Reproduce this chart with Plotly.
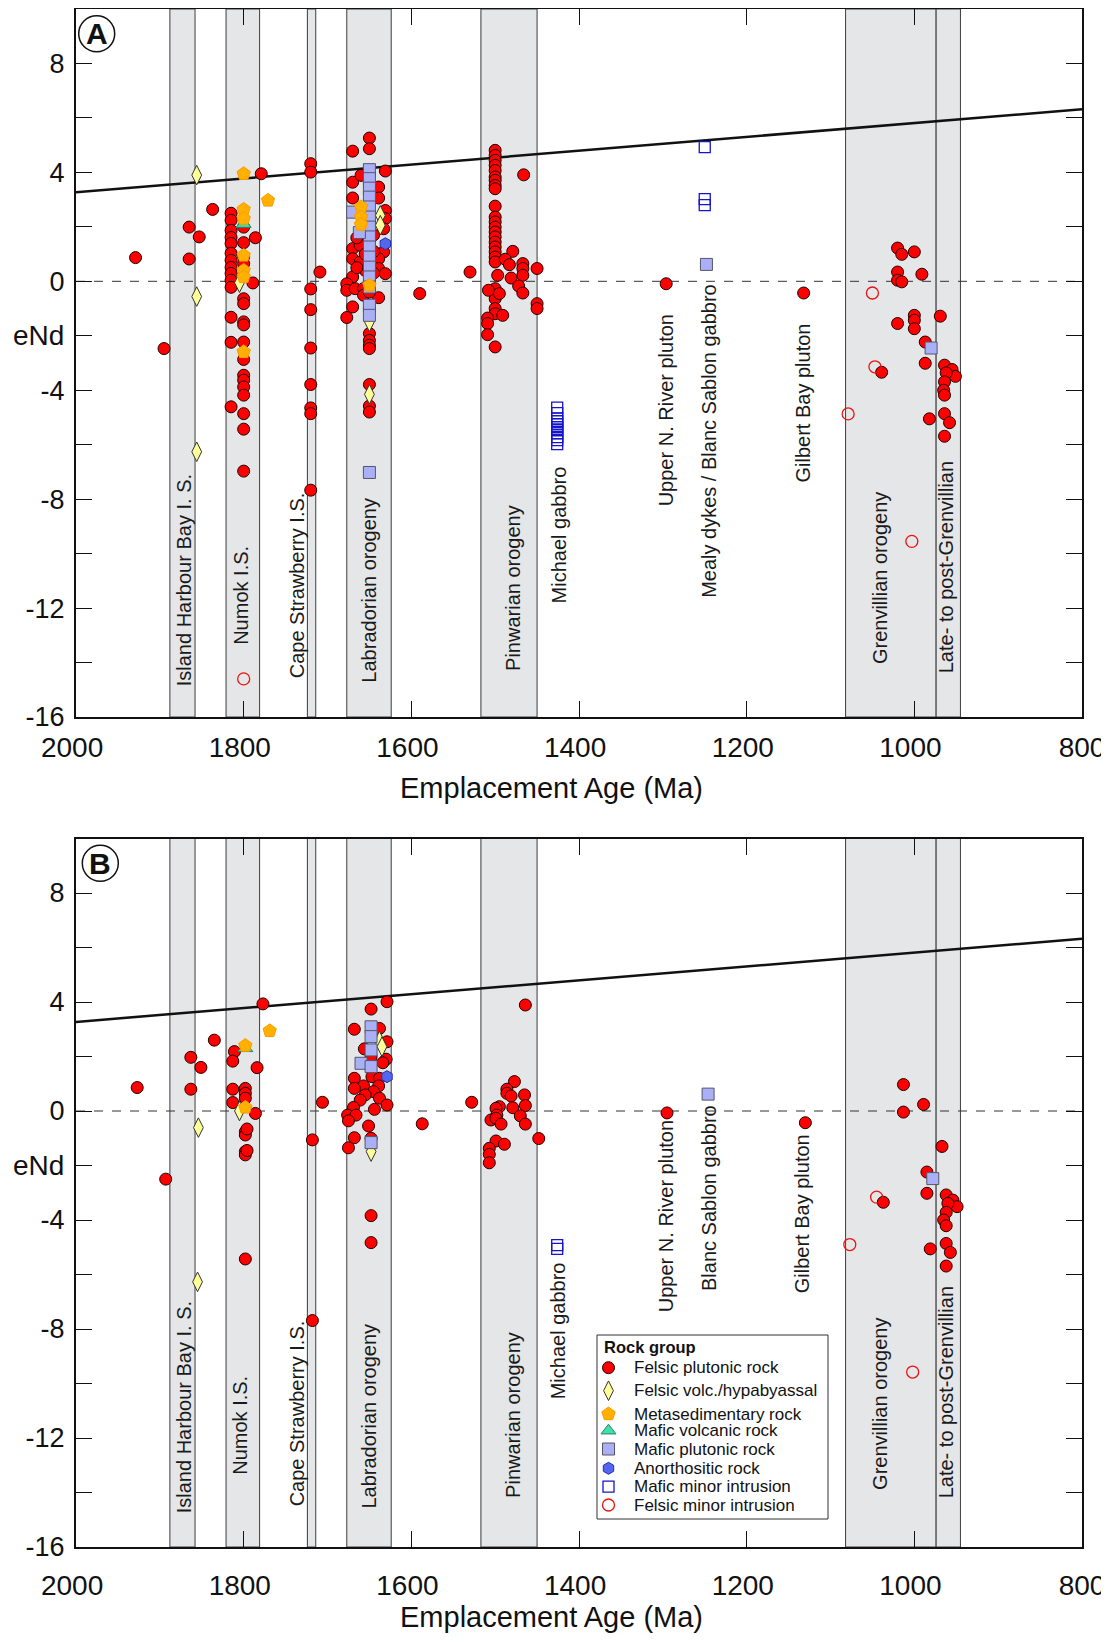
import plotly.graph_objects as go

# ---------------- data: panel A ----------------
a_fp_age = [1929, 1895, 1865, 1865, 1853, 1837,
            1815, 1815, 1815, 1815, 1815, 1815, 1815, 1815, 1815, 1815, 1815, 1815, 1815, 1815,
            1800, 1800, 1800, 1800, 1800, 1800, 1800, 1800, 1800, 1800, 1800, 1800, 1800, 1800, 1800, 1800, 1800,
            1789, 1786, 1779,
            1720, 1720, 1720, 1720, 1720, 1720, 1720, 1720, 1720, 1709,
            1650, 1650, 1670, 1631, 1670, 1660, 1639, 1670, 1639, 1631, 1631, 1633, 1670, 1661, 1633,
            1670, 1661, 1639, 1639, 1631, 1670, 1677, 1677, 1667, 1657, 1657, 1639, 1670, 1677,
            1650, 1650, 1650, 1650, 1650, 1650, 1650, 1650, 1650, 1650, 1650, 1650,
            1645, 1645, 1645, 1655, 1655, 1655, 1665, 1665, 1650, 1650, 1650,
            1590, 1530,
            1500, 1500, 1500, 1500, 1500, 1500, 1500, 1500, 1500, 1500, 1500, 1500, 1500, 1500, 1500,
            1500, 1500, 1500, 1500, 1500, 1500, 1500, 1500, 1500, 1500,
            1497, 1508, 1495, 1509, 1509, 1509, 1491,
            1466, 1479, 1488, 1483, 1467, 1467, 1450, 1467, 1481, 1472, 1467, 1450, 1450,
            1296, 1132,
            1020, 1015, 1000, 1020, 1020, 1015, 991, 1000, 1000, 1000, 1020, 969, 987, 987, 1039,
            964, 955, 951, 962, 964, 965, 964, 982, 964, 958, 964]
a_fp_end = [0.87, -2.47, 1.99, 0.82, 1.63, 2.64,
            2.5, 2.24, 1.87, 1.61, 1.39, 1.03, 0.77, 0.51, 0.29, 0.04, -0.22, -1.32, -2.24, -4.61,
            1.99, 1.42, 0.9, 0.65, -0.64, -0.82, -1.49, -1.6, -2.23, -2.87, -3.45, -3.63, -3.88, -4.18, -4.86, -5.43, -6.97,
            -0.06, 1.6, 3.95,
            4.32, 4.01, -0.28, -1.04, -2.45, -3.79, -4.65, -4.86, -7.67, 0.34,
            5.26, 4.87, 4.78, 4.05, 3.64, 3.89, 3.46, 3.06, 3.06, 2.6, 2.3, 1.93, 1.2, 1.32, 1.08,
            0.83, 0.71, 0.83, 0.47, 0.28, 0.16, -0.09, -0.33, -0.27, -0.27, -0.51, -0.6, -0.94, -1.33,
            -1.92, -2.17, -2.35, -2.47, 3.5, 2.9, 2.2, 1.5, 0.6, 0.0, -0.4, -1.0,
            1.7, 1.1, 0.3, 2.0, 1.0, 0.4, 1.6, 0.5, -3.79, -4.58, -4.8,
            -0.45, 0.34,
            4.81, 4.62, 4.44, 4.26, 4.07, 3.83, 3.71, 3.52, 3.4, 2.76, 2.36, 2.18, 1.99, 1.81, 1.63,
            1.44, 1.26, 1.08, 0.89, 0.71, -0.27, -0.64, -1.0, -1.19, -2.41,
            0.22, -0.33, -0.45, -1.35, -1.55, -1.96, -1.25,
            3.91, 1.1, 0.81, 0.61, 0.65, 0.47, 0.47, 0.22, 0.12, -0.17, -0.43, -0.82, -1.0,
            -0.09, -0.43,
            1.22, 0.99, 1.08, 0.34, 0.04, -0.02, 0.26, -1.25, -1.43, -1.74, -1.55, -1.28, -2.23, -3.01, -3.34,
            -3.08, -3.24, -3.49, -3.36, -3.69, -4.0, -4.18, -5.05, -4.86, -5.19, -5.69]
a_fv_age = [1856, 1856, 1856, 1805, 1637, 1637, 1650, 1650]
a_fv_end = [3.9, -0.56, -6.26, -0.05, 2.42, 2.06, -1.49, -4.15]
a_ms_age = [1800, 1800, 1800, 1800, 1800, 1800, 1800, 1771, 1660, 1660, 1660, 1650]
a_ms_end = [3.95, 2.64, 2.3, 0.95, 0.4, 0.16, -2.59, 2.97, 2.73, 2.36, 2.08, -0.15]
a_mv_age = [1800]
a_mv_end = [2.1]
a_mp_age = [1650] * 16 + [1670, 1662, 1248, 980]
a_mp_end = [4.1, 3.77, 3.42, 3.09, 2.73, 2.36, 1.99, 1.63, 1.26, 0.89, 0.52, 0.16, -0.21, -0.88, -1.25, -7.02,
            2.54, 1.79, 0.62, -2.45]
a_an_age = [1631]
a_an_end = [1.38]
a_mm_age = [1250, 1250, 1250] + [1426] * 11
a_mm_end = [4.93, 3.02, 2.8, -4.64, -4.84, -5.03, -5.14, -5.25, -5.36, -5.47, -5.58, -5.72, -5.83, -5.98]
a_fm_age = [1800, 1050, 1047, 1079, 1003]
a_fm_end = [-14.6, -0.43, -3.14, -4.87, -9.55]

# ---------------- data: panel B ----------------
b_fp_age = [1927, 1893, 1863, 1863, 1851, 1835, 1811, 1813, 1784, 1777, 1813, 1813, 1798, 1798, 1798,
            1786, 1798, 1798, 1796, 1798, 1798, 1796, 1798, 1718, 1718, 1706, 1587, 1528,
            1629, 1648, 1668, 1638, 1629, 1656, 1648, 1630, 1634, 1668, 1647, 1638, 1657, 1668, 1639,
            1645, 1655, 1661, 1638, 1629, 1669, 1644, 1676, 1666, 1675, 1651, 1668, 1675, 1648, 1648, 1648,
            1464, 1477, 1486, 1486, 1481, 1465, 1495, 1499, 1479, 1464, 1498, 1505, 1499, 1493, 1470,
            1464, 1448, 1499, 1489, 1507, 1507, 1507,
            1295, 1130,
            1013, 1013, 989, 967, 985, 985, 1037, 962, 954, 949, 960, 962, 965, 962, 981, 962, 957, 962]
b_fp_end = [0.86, -2.5, 1.97, 0.8, 1.6, 2.6, 2.18, 1.83, 1.59, 3.93, 0.8, 0.31, 0.83, 0.65, 0.47,
            -0.09, -0.76, -0.88, -0.66, -1.49, -1.61, -1.45, -5.43, -1.06, -7.69, 0.32, -0.47, 0.32,
            4.01, 3.74, 3.0, 3.03, 2.54, 2.28, 1.99, 1.9, 1.77, 1.2, 1.26, 1.2, 0.92, 0.83, 0.92,
            0.71, 0.59, 0.4, 0.47, 0.22, 0.13, 0.06, -0.15, -0.15, -0.36, -0.55, -0.98, -1.35, -1.0, -3.84, -4.83,
            3.89, 1.08, 0.8, 0.65, 0.55, 0.59, 0.16, 0.1, 0.12, 0.2, -0.15, -0.33, -0.27, -0.48, -0.18,
            -0.48, -1.01, -1.1, -1.22, -1.37, -1.59, -1.9,
            -0.07, -0.43,
            0.97, -0.04, 0.24, -1.3, -2.24, -3.02, -3.35, -3.08, -3.27, -3.51, -3.39, -3.72, -4.0, -4.21,
            -5.06, -4.86, -5.19, -5.69]
b_fv_age = [1854, 1805, 1855, 1638, 1635, 1648]
b_fv_end = [-0.61, 0.0, -6.27, 2.57, 2.36, -1.49]
b_ms_age = [1798, 1769, 1798]
b_ms_end = [2.4, 2.94, 0.13]
b_mv_age = [1798]
b_mv_end = [2.3]
b_mp_age = [1648, 1648, 1648, 1660, 1648, 1648, 1246, 978]
b_mp_end = [3.09, 2.73, 2.24, 1.75, 1.63, -1.16, 0.62, -2.48]
b_an_age = [1629]
b_an_end = [1.26]
b_mm_age = [1426, 1426]
b_mm_end = [-4.92, -5.06]
b_fm_age = [1045, 1077, 1002]
b_fm_end = [-3.16, -4.9, -9.58]

# depleted mantle line end points
dm_age = [2000, 800]
dm_end = [3.27, 6.32]

# shaded event bands (start, end ages)
band_start = [1888, 1821, 1724, 1677, 1517, 1082, 974]
band_end = [1858, 1781, 1714, 1624, 1450, 974, 945]

# band / unit labels
lab_text_a = ["Island Harbour Bay I. S.", "Numok I.S.", "Cape Strawberry I.S.", "Labradorian orogeny",
              "Pinwarian orogeny", "Michael gabbro", "Upper N. River pluton",
              "Mealy dykes / Blanc Sablon gabbro", "Gilbert Bay pluton", "Grenvillian orogeny",
              "Late- to post-Grenvillian"]
lab_text_b = ["Island Harbour Bay I. S.", "Numok I.S.", "Cape Strawberry I.S.", "Labradorian orogeny",
              "Pinwarian orogeny", "Michael gabbro", "Upper N. River pluton",
              "Blanc Sablon gabbro", "Gilbert Bay pluton", "Grenvillian orogeny",
              "Late- to post-Grenvillian"]
lab_age = [1871, 1804, 1736, 1650.5, 1479, 1424, 1296, 1245, 1133, 1041, 962]
lab_bot_a = [-14.94, -13.43, -14.64, -14.83, -14.39, -11.89, -8.33, -11.7, -7.45, -14.13, -14.46]
lab_bot_b = [-14.83, -13.43, -14.57, -14.68, -14.28, -10.64, -7.45, -6.68, -6.75, -13.98, -14.28]

x_ticks = [2000, 1800, 1600, 1400, 1200, 1000, 800]
# labels sit slightly left of their ticks, as in the source (not the last one, which must stay on the page)
x_text = [f"{v}\u00a0" if v != 800 else str(v) for v in x_ticks]
y_ticks = list(range(-16, 10, 2))
y_text = [str(v) if v % 4 == 0 else "" for v in y_ticks]

FONT = "Liberation Sans, Arial, sans-serif"

# page geometry (pixels); the html body adds an 8 px margin on every side
BODY = 8
PL, PR, PT, PB = 76, 1082, 9, 1547          # plot-area box on the page
W = 1109 - BODY
H = 1642 - 2 * BODY                          # keep the page free of a vertical scrollbar
ML = PL - BODY
MT = PT - BODY
MR = W - ML - (PR - PL)
MB = H - MT - (PB - PT)

def px_to_paper_x(px):
    return (px - PL) / (PR - PL)

def px_to_paper_y(py):
    return (PB - py) / (PB - PT)

groups = [
    # name, symbol, size, fill, line color, legend rank
    ("Felsic plutonic rock", "circle", 12, "#ff0000", "#220000", 1),
    ("Felsic volc./hypabyassal", "diamond-tall", 14, "#ffff99", "#333333", 2),
    ("Mafic volcanic rock", "triangle-up", 13, "#44ddaa", "#1f8a66", 4),
    ("Anorthositic rock", "hexagon", 12, "#5566ee", "#1f2fb0", 6),
    ("Mafic plutonic rock", "square", 12, "#aab0f5", "#55556a", 5),
    ("Metasedimentary rock", "pentagon", 14, "#ffb000", "#ff9a00", 3),
    ("Mafic minor intrusion", "square-open", 11, "#1515cc", "#1515cc", 7),
    ("Felsic minor intrusion", "circle-open", 12, "#ee1111", "#ee1111", 8),
]
data_a = {
    "Felsic plutonic rock": (a_fp_age, a_fp_end),
    "Felsic volc./hypabyassal": (a_fv_age, a_fv_end),
    "Metasedimentary rock": (a_ms_age, a_ms_end),
    "Mafic volcanic rock": (a_mv_age, a_mv_end),
    "Mafic plutonic rock": (a_mp_age, a_mp_end),
    "Anorthositic rock": (a_an_age, a_an_end),
    "Mafic minor intrusion": (a_mm_age, a_mm_end),
    "Felsic minor intrusion": (a_fm_age, a_fm_end),
}
data_b = {
    "Felsic plutonic rock": (b_fp_age, b_fp_end),
    "Felsic volc./hypabyassal": (b_fv_age, b_fv_end),
    "Metasedimentary rock": (b_ms_age, b_ms_end),
    "Mafic volcanic rock": (b_mv_age, b_mv_end),
    "Mafic plutonic rock": (b_mp_age, b_mp_end),
    "Anorthositic rock": (b_an_age, b_an_end),
    "Mafic minor intrusion": (b_mm_age, b_mm_end),
    "Felsic minor intrusion": (b_fm_age, b_fm_end),
}

fig = go.Figure()

for xa, ya, dat in [("x", "y", data_a), ("x2", "y2", data_b)]:
    fig.add_trace(go.Scatter(x=dm_age, y=dm_end, mode="lines", line=dict(color="#111111", width=2.5),
                             showlegend=False, hoverinfo="skip", xaxis=xa, yaxis=ya))
    for name, sym, size, fill, lc, rank in groups:
        ages, vals = dat[name]
        open_sym = sym.endswith("open")
        fig.add_trace(go.Scatter(
            x=ages, y=vals, mode="markers", name=name, showlegend=False, xaxis=xa, yaxis=ya,
            marker=dict(symbol=sym, size=size, color=fill,
                        line=dict(color=lc, width=1.3 if open_sym else 1)),
        ))

# ---- hand-built legend (page-pixel coordinates on an invisible overlay axis) ----
leg_left, leg_top, leg_right, leg_bot = 597, 1335, 828, 1519
leg_marker_x = 608.5
leg_text_x = 632
leg_title_y = 1346.5
leg_rows_y = [1367.7, 1390.7, 1414, 1430.7, 1449, 1468.3, 1486.7, 1505]
ordered = sorted(groups, key=lambda g: g[5])
for (name, sym, size, fill, lc, rank), yy in zip(ordered, leg_rows_y):
    open_sym = sym.endswith("open")
    fig.add_trace(go.Scatter(
        x=[leg_marker_x], y=[yy], mode="markers", showlegend=False, hoverinfo="skip",
        xaxis="x3", yaxis="y3", cliponaxis=False,
        marker=dict(symbol=sym, size=size, color=fill, line=dict(color=lc, width=1.3 if open_sym else 1)),
    ))

shapes = []
annotations = []
for xr, yr in [("x", "y"), ("x2", "y2")]:
    for s, e in zip(band_start, band_end):
        shapes.append(dict(type="rect", xref=xr, yref=f"{yr} domain", x0=s, x1=e, y0=0, y1=1,
                           fillcolor="#e5e6e8", line=dict(color="#3c3c3c", width=1), layer="below"))
    shapes.append(dict(type="line", xref=f"{xr} domain", yref=yr, x0=0, x1=1, y0=0, y1=0,
                       line=dict(color="#333333", width=1, dash="dash"), layer="below"))

# legend box
shapes.append(dict(type="rect", xref="x3", yref="y3", x0=leg_left, x1=leg_right, y0=leg_top, y1=leg_bot,
                   fillcolor="white", line=dict(color="#333333", width=1), layer="below"))
annotations.append(dict(x=leg_left + 5, y=leg_title_y, xref="x3", yref="y3", text="<b>Rock group</b>",
                        showarrow=False, xanchor="left", yanchor="middle",
                        font=dict(family=FONT, size=16.5, color="#111111")))
for (name, sym, size, fill, lc, rank), yy in zip(ordered, leg_rows_y):
    annotations.append(dict(x=leg_text_x, y=yy, xref="x3", yref="y3", text=name, showarrow=False,
                            xanchor="left", yanchor="middle",
                            font=dict(family=FONT, size=17, color="#111111")))

# panel letters
for xr, yr, cx, letter in [("x", "y", 1975.3, "A"), ("x2", "y2", 1971, "B")]:
    shapes.append(dict(type="circle", xref=xr, yref=yr, xsizemode="pixel", ysizemode="pixel",
                       xanchor=cx, yanchor=9.09, x0=-18, x1=18, y0=-18, y1=18,
                       line=dict(color="#111111", width=1.5)))
    annotations.append(dict(x=cx, y=9.09, xref=xr, yref=yr, text=f"<b>{letter}</b>", showarrow=False,
                            font=dict(family=FONT, size=30, color="#111111"), xanchor="center",
                            yanchor="middle"))

for xr, yr, texts, bots in [("x", "y", lab_text_a, lab_bot_a), ("x2", "y2", lab_text_b, lab_bot_b)]:
    for t, xa_, yb in zip(texts, lab_age, bots):
        annotations.append(dict(x=xa_, y=yb, xref=xr, yref=yr, text=t, textangle=-90, showarrow=False,
                                xanchor="center", yanchor="bottom",
                                font=dict(family=FONT, size=20, color="#1a1a1a")))

# eNd axis labels and x-axis titles
for yr, ty_px in [("y", 787.5), ("y2", 1617)]:
    annotations.append(dict(x=-0.01, y=-2, xref="paper", yref=yr, text="eNd", showarrow=False,
                            xanchor="right", yanchor="middle", font=dict(family=FONT, size=28, color="#111111")))
    annotations.append(dict(x=px_to_paper_x(551), y=px_to_paper_y(ty_px), xref="paper", yref="paper",
                            text="Emplacement Age (Ma)",
                            showarrow=False, xanchor="center", yanchor="middle",
                            font=dict(family=FONT, size=29, color="#111111")))

def xcommon(standoff):
    return dict(range=[2000, 800], tickvals=x_ticks, ticktext=x_text,
                ticks="inside", ticklen=16, tickwidth=1.3, tickcolor="#111111",
                showline=True, linecolor="#111111", linewidth=2, mirror="ticks",
                showgrid=False, zeroline=False, tickfont=dict(family=FONT, size=28, color="#111111"),
                ticklabelstandoff=standoff)

ycommon = dict(range=[-16, 10], tickvals=y_ticks, ticktext=y_text,
               ticks="inside", ticklen=16, tickwidth=1.3, tickcolor="#111111",
               showline=True, linecolor="#111111", linewidth=2, mirror="ticks",
               showgrid=False, zeroline=False, tickfont=dict(family=FONT, size=27, color="#111111"),
               ticklabelstandoff=4)

dom_a = [(PB - 717) / (PB - PT), 1]
dom_b = [0, (PB - 838.5) / (PB - PT)]

fig.update_layout(
    width=W, height=H,
    margin=dict(l=ML, r=MR, t=MT, b=MB, autoexpand=False),
    paper_bgcolor="white", plot_bgcolor="rgba(0,0,0,0)",
    font=dict(family=FONT, color="#111111"),
    showlegend=False,
    xaxis=dict(anchor="y", **xcommon(4)),
    yaxis=dict(anchor="x", domain=dom_a, **ycommon),
    xaxis2=dict(anchor="y2", **xcommon(12)),
    yaxis2=dict(anchor="x2", domain=dom_b, **ycommon),
    xaxis3=dict(anchor="y3", domain=[0, 1], range=[PL, PR], visible=False, fixedrange=True),
    yaxis3=dict(anchor="x3", domain=[0, 1], range=[PB, PT], visible=False, fixedrange=True),
    shapes=shapes, annotations=annotations,
)

# suppress viewport scrollbars only (the body itself must not clip the figure)
fig.write_html("out.html", post_script="document.documentElement.style.overflow='hidden';")
